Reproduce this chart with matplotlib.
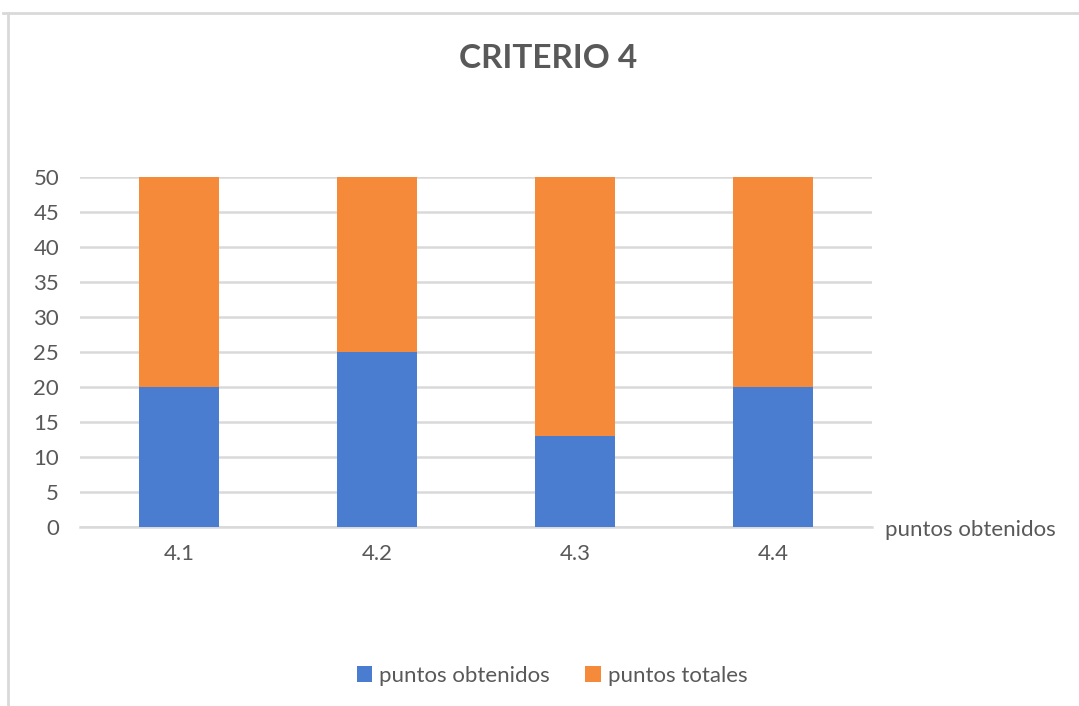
import numpy as np
import matplotlib.pyplot as plt
from matplotlib.lines import Line2D

categorias = ["4.1", "4.2", "4.3", "4.4"]
obtenidos = [20, 25, 13, 20]
totales = [30, 25, 37, 30]

plt.rcParams['font.family'] = ['Lato', 'DejaVu Sans']
gris = '#595959'

fig = plt.figure(figsize=(10.79, 7.06), dpi=100)
ax = fig.add_axes([80/1079, 1 - 527/706, 792/1079, 350/706])

x = np.arange(len(categorias))
b1 = ax.bar(x, obtenidos, width=0.4, color='#4a7cd0', label='puntos obtenidos', zorder=3)
b2 = ax.bar(x, totales, width=0.4, bottom=obtenidos, color='#f58a3a', label='puntos totales', zorder=3)

ax.set_xlim(-0.5, len(categorias) - 0.5)
ax.set_ylim(0, 50)
ax.set_yticks(np.arange(0, 51, 5))
ax.set_xticks(x)
ax.set_xticklabels(categorias)
ax.yaxis.grid(True, color='#d9d9d9', linewidth=1.8, zorder=0)
for s in ['top', 'right', 'left']:
    ax.spines[s].set_visible(False)
ax.spines['bottom'].set_color('#d9d9d9')
ax.spines['bottom'].set_linewidth(1.8)
ax.tick_params(axis='both', length=0, labelsize=16, labelcolor=gris)
ax.tick_params(axis='y', pad=15)
ax.tick_params(axis='x', pad=12)

# titulo del eje x a la derecha
fig.text(885/1079, 1 - 530/706, 'puntos obtenidos', fontsize=16,
         color=gris, ha='left', va='center')

fig.text(548/1079, 1 - 58/706, 'CRITERIO 4', fontsize=24, fontweight='bold',
         color=gris, ha='center', va='center')

leg = fig.legend(handles=[b1, b2], loc='center', bbox_to_anchor=(552/1079, 1 - 676/706),
                 ncol=2, frameon=False, fontsize=16, handlelength=0.7, handleheight=0.7,
                 columnspacing=1.6, handletextpad=0.3)
for t in leg.get_texts():
    t.set_color(gris)

# marco del grafico
fig.add_artist(Line2D([8/1079, 8/1079], [1 - 13/706, 0], color='#d9d9d9', linewidth=2))
fig.add_artist(Line2D([3/1079, 1], [1 - 13/706, 1 - 13/706], color='#d9d9d9', linewidth=2))

plt.savefig('out.png', dpi=100)
